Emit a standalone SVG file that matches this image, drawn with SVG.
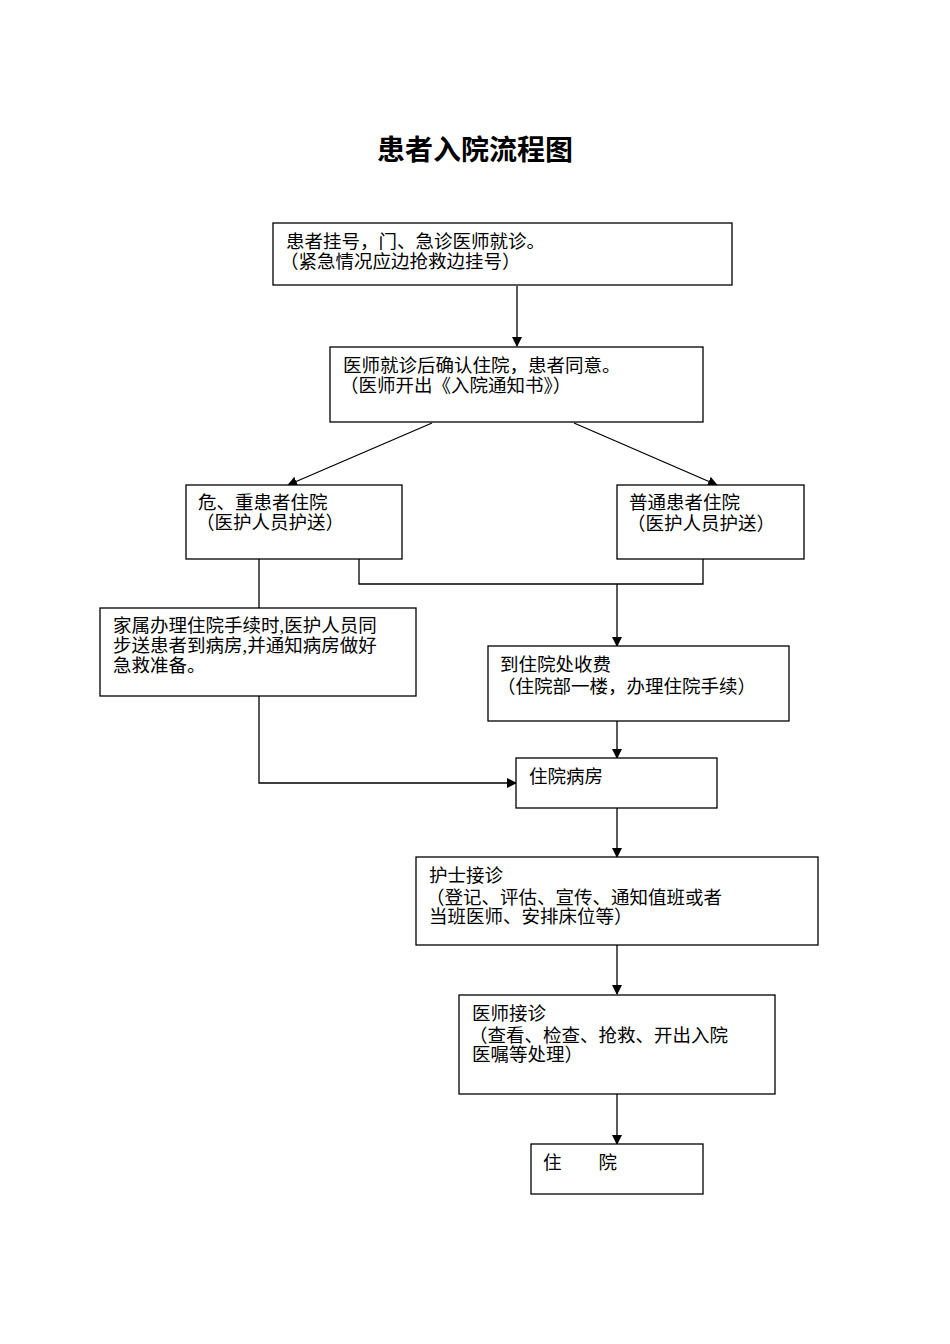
<svg xmlns="http://www.w3.org/2000/svg" width="950" height="1344" viewBox="0 0 950 1344">
<style>
.b{fill:#fff;stroke:#000;stroke-width:1.3}
.t{font-family:"Liberation Serif","Noto Sans CJK SC",serif;font-size:18.5px;fill:#000}
.c{fill:none;stroke:#000;stroke-width:1.3}
.h{font-family:"Liberation Sans","Noto Sans CJK SC",sans-serif;font-size:28px;font-weight:bold}
</style>
<defs><marker id="a" markerWidth="10" markerHeight="10" refX="9" refY="5" orient="auto" markerUnits="userSpaceOnUse"><path d="M0,0L10,5L0,10z"/></marker></defs>
<rect width="950" height="1344" fill="#fff"/>
<text class="h" x="475" y="160" text-anchor="middle">患者入院流程图</text>
<g id="connectors">
<path class="c" d="M517,286V346" marker-end="url(#a)"/>
<path class="c" d="M432,423L288,485" marker-end="url(#a)"/>
<path class="c" d="M574,423L717,485" marker-end="url(#a)"/>
<path class="c" d="M259,559V608"/>
<path class="c" d="M359,559V584H703V559"/>
<path class="c" d="M617,584V646" marker-end="url(#a)"/>
<path class="c" d="M617,721V758" marker-end="url(#a)"/>
<path class="c" d="M259,696V783H516" marker-end="url(#a)"/>
<path class="c" d="M617,808V857" marker-end="url(#a)"/>
<path class="c" d="M617,945V994" marker-end="url(#a)"/>
<path class="c" d="M617,1094V1144" marker-end="url(#a)"/>
</g>
<g id="n1"><rect class="b" x="273" y="223" width="459" height="62"/><text class="t" x="286" y="248">患者挂号，门、急诊医师就诊。</text><text class="t" x="280" y="268">（紧急情况应边抢救边挂号）</text></g>
<g id="n2"><rect class="b" x="330" y="347" width="373" height="75"/><text class="t" x="343" y="372">医师就诊后确认住院，患者同意。</text><text class="t" x="340" y="392">（医师开出《入院通知书》）</text></g>
<g id="n3"><rect class="b" x="186" y="485" width="216" height="74"/><text class="t" x="198" y="509">危、重患者住院</text><text class="t" x="196" y="529">（医护人员护送）</text></g>
<g id="n4"><rect class="b" x="617" y="485" width="187" height="74"/><text class="t" x="629" y="509">普通患者住院</text><text class="t" x="627" y="530">（医护人员护送）</text></g>
<g id="n5"><rect class="b" x="100" y="608" width="316" height="88"/><text class="t" x="113" y="632">家属办理住院手续时,医护人员同</text><text class="t" x="113" y="652">步送患者到病房,并通知病房做好</text><text class="t" x="113" y="672">急救准备。</text></g>
<g id="n6"><rect class="b" x="488" y="646" width="301" height="75"/><text class="t" x="500" y="671">到住院处收费</text><text class="t" x="497" y="693">（住院部一楼，办理住院手续）</text></g>
<g id="n7"><rect class="b" x="516" y="758" width="201" height="50"/><text class="t" x="529" y="783">住院病房</text></g>
<g id="n8"><rect class="b" x="416" y="857" width="402" height="88"/><text class="t" x="429" y="882">护士接诊</text><text class="t" x="426" y="904">（登记、评估、宣传、通知值班或者</text><text class="t" x="429" y="923">当班医师、安排床位等）</text></g>
<g id="n9"><rect class="b" x="459" y="995" width="316" height="99"/><text class="t" x="472" y="1020">医师接诊</text><text class="t" x="469" y="1042">（查看、检查、抢救、开出入院</text><text class="t" x="472" y="1061">医嘱等处理）</text></g>
<g id="n10"><rect class="b" x="531" y="1144" width="172" height="50"/><text class="t" x="543" y="1169">住　　院</text></g>
</svg>
